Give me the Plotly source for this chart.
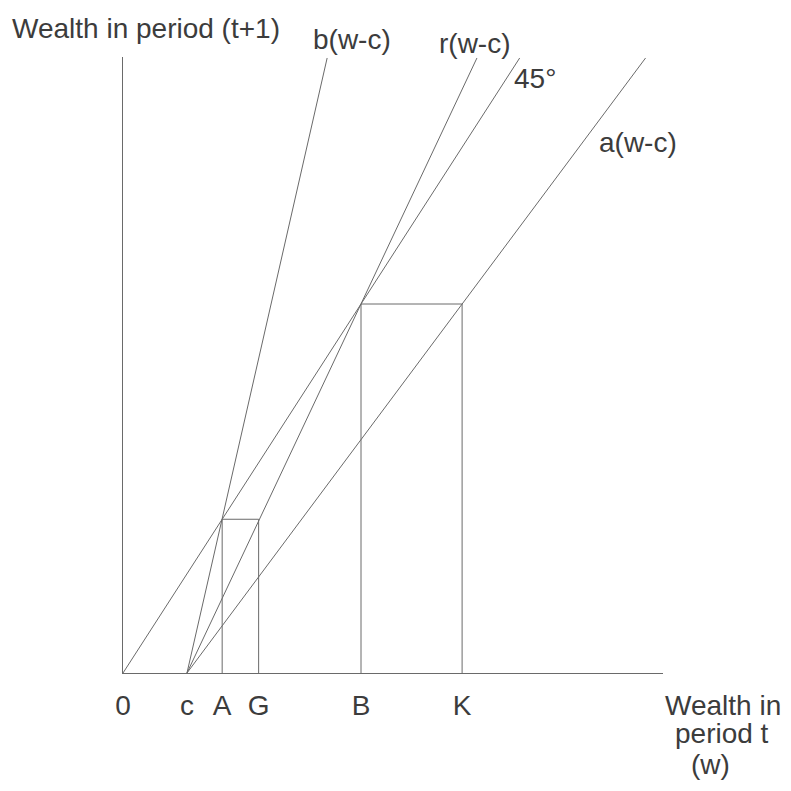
import plotly.graph_objects as go

# parametri del diagramma
c = 1.0
lineNames = ["b(w-c)", "r(w-c)", "45°", "a(w-c)"]
lineSlopes = [2.83, 1.368, 1.0, 0.865]
lineStarts = [c, c, 0.0, c]   # dove ogni retta tocca l'asse w
yTop = 6.2

tickNames = ["0", "c", "A", "G", "B", "K"]
tickVals = [0.0, 1.0, 1.55, 2.12, 3.72, 5.30]

# rettangoli: (sinistra, destra, altezza)
rectLeft = [1.55, 3.72]
rectRight = [2.12, 5.30]
rectTop = [1.55, 3.72]

xMax = 8.44
yMax = 6.21

lineColor = "#6a6a6a"
textColor = "#3c3c3c"
font = "Liberation Sans, Arial, sans-serif"
fs = 28

# area del grafico nello screenshot (la pagina ha 8px di margine sul body)
L, R, T, B = 123, 663, 57, 673
def px2paper(px, py):
    return (px - L) / (R - L), (B - py) / (B - T)

fig = go.Figure()

for name, s, x0 in zip(lineNames, lineSlopes, lineStarts):
    fig.add_trace(go.Scatter(x=[x0, x0 + yTop / s], y=[0, yTop], mode="lines",
                             line=dict(color=lineColor, width=1), name=name,
                             hoverinfo="skip"))

for l, r, t in zip(rectLeft, rectRight, rectTop):
    fig.add_trace(go.Scatter(x=[l, l, r, r], y=[0, t, t, 0], mode="lines",
                             line=dict(color=lineColor, width=1),
                             hoverinfo="skip"))

# etichette (posizione in pixel dello screenshot)
labels = [
    ("b(w-c)", 352, 40),
    ("r(w-c)", 475, 43),
    ("45°", 535, 79),
    ("a(w-c)", 638, 142),
    ("Wealth in period (t+1)", 146, 28),
    ("Wealth in", 723, 705),
    ("period t", 722, 733),
    ("(w)", 710, 764),
]
annotations = []
for txt, px, py in labels:
    x, y = px2paper(px, py)
    annotations.append(dict(text=txt, x=x, y=y, xref="paper", yref="paper",
                            xanchor="center", yanchor="middle", showarrow=False,
                            font=dict(size=fs, color=textColor, family=font)))

fig.update_layout(
    width=791, height=791,
    margin=dict(l=L - 8, r=791 - (R - 8), t=T - 8, b=791 - (B - 8)),
    paper_bgcolor="white", plot_bgcolor="white",
    showlegend=False,
    annotations=annotations,
    xaxis=dict(range=[0, xMax], showgrid=False, zeroline=False, showline=True,
               linecolor=lineColor, linewidth=1, tickvals=tickVals, ticktext=tickNames,
               ticks="outside", ticklen=7, tickcolor="rgba(0,0,0,0)",
               tickfont=dict(size=fs, color=textColor, family=font), tickangle=0),
    yaxis=dict(range=[0, yMax], showgrid=False, zeroline=False, showline=True,
               linecolor=lineColor, linewidth=1, showticklabels=False, ticks=""),
)

fig.write_html("out.html")
